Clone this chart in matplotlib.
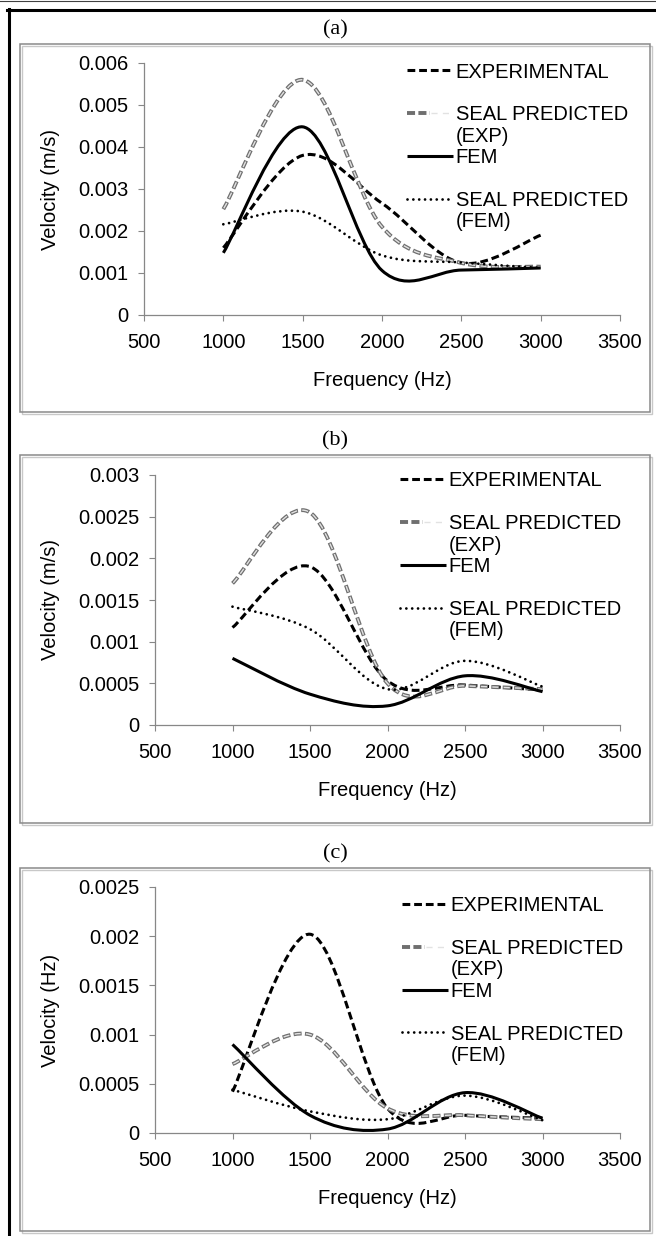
import numpy as np
import matplotlib
matplotlib.use('Agg')
import matplotlib.pyplot as plt
from matplotlib.path import Path
from matplotlib.patches import PathPatch, Rectangle
from matplotlib.lines import Line2D
from matplotlib.legend_handler import HandlerTuple

plt.rcParams['font.family'] = ['Liberation Sans', 'DejaVu Sans']
plt.rcParams['lines.scale_dashes'] = False

# data (Excel smoothed lines through 5 points)
freq = [1000, 1500, 2000, 2500, 3000]

a_exp = [0.0016, 0.0038, 0.00266, 0.00124, 0.0019]
a_seal_exp = [0.00252, 0.0056, 0.0021, 0.00124, 0.00115]
a_fem = [0.00148, 0.00448, 0.00106, 0.00107, 0.00112]
a_seal_fem = [0.00216, 0.00246, 0.00142, 0.00125, 0.00112]

b_exp = [0.00117, 0.0019, 0.00053, 0.00048, 0.00042]
b_seal_exp = [0.0017, 0.00255, 0.0005, 0.00047, 0.00043]
b_fem = [0.0008, 0.00037, 0.00023, 0.00059, 0.0004]
b_seal_fem = [0.00142, 0.00115, 0.00043, 0.00077, 0.00046]

c_exp = [0.00042, 0.00202, 0.00025, 0.00018, 0.00015]
c_seal_exp = [0.0007, 0.001, 0.00025, 0.00018, 0.00014]
c_fem = [0.0009, 0.00018, 0.00004, 0.00041, 0.00015]
c_seal_fem = [0.00044, 0.00022, 0.00014, 0.00038, 0.00013]

x_ticks = [500, 1000, 1500, 2000, 2500, 3000, 3500]
a_yticks = [0, 0.001, 0.002, 0.003, 0.004, 0.005, 0.006]
a_yticklabels = ['0', '0.001', '0.002', '0.003', '0.004', '0.005', '0.006']
b_yticks = [0, 0.0005, 0.001, 0.0015, 0.002, 0.0025, 0.003]
b_yticklabels = ['0', '0.0005', '0.001', '0.0015', '0.002', '0.0025', '0.003']
c_yticks = [0, 0.0005, 0.001, 0.0015, 0.002, 0.0025]
c_yticklabels = ['0', '0.0005', '0.001', '0.0015', '0.002', '0.0025']

panel_titles = ['(a)', '(b)', '(c)']
y_titles = ['Velocity (m/s)', 'Velocity (m/s)', 'Velocity (Hz)']
x_title = 'Frequency (Hz)'
legend_rows = ['EXPERIMENTAL', ' ', 'SEAL PREDICTED', '(EXP)', 'FEM', ' ', 'SEAL PREDICTED', '(FEM)']

W, H = 656, 1236
GREY = '#878787'

STYLES = {
	'exp': [dict(color='black', lw=2.2, ls=(0, (5.6, 2.8)), cap='butt')],
	'seal_exp': [dict(color='#6f6f6f', lw=2.8, ls=(0, (5.8, 2.4)), cap='butt'),
		dict(color='#e2e2e2', lw=1.0, ls=(7.5, (4.4, 3.8)), cap='butt')],
	'fem': [dict(color='black', lw=2.2, ls='-', cap='butt')],
	'seal_fem': [dict(color='black', lw=2.0, ls=(0, (0.01, 4.2)), cap='round')],
}


def fx(px):
	return px / W


def fy(py):
	return 1 - py / H


def smooth_path(x, y):
	# bezier through the points, like Excel's "smoothed line"
	n = len(x)
	verts = [(x[0], y[0])]
	codes = [Path.MOVETO]
	for i in range(n - 1):
		j0 = i - 1 if i > 0 else i
		j3 = i + 2 if i + 2 < n else i + 1
		c1 = (x[i] + (x[i + 1] - x[j0]) / 6, y[i] + (y[i + 1] - y[j0]) / 6)
		c2 = (x[i + 1] - (x[j3] - x[i]) / 6, y[i + 1] - (y[j3] - y[i]) / 6)
		verts += [c1, c2, (x[i + 1], y[i + 1])]
		codes += [Path.CURVE4] * 3
	return Path(verts, codes)


def legend_handle(key):
	lines = [Line2D([], [], color=st['color'], lw=st['lw'], ls=st['ls'],
		dash_capstyle=st['cap'], solid_capstyle=st['cap']) for st in STYLES[key]]
	if len(lines) > 1:
		return tuple(lines)
	return lines[0]


def draw_panel(fig, series, yticks, yticklabels, title, ytitle, box, axbox, legend_pos):
	l, t, r, b = axbox
	ax = fig.add_axes([fx(l), fy(b), fx(r) - fx(l), (b - t) / H])
	for key, vals in series:
		path = smooth_path(freq, vals)
		for st in STYLES[key]:
			ax.add_patch(PathPatch(path, fill=False, edgecolor=st['color'], lw=st['lw'],
				linestyle=st['ls'], capstyle=st['cap'], joinstyle='round'))
	ax.set_xlim(500, 3500)
	ax.set_ylim(0, yticks[-1])
	ax.set_xticks(x_ticks)
	ax.set_yticks(yticks, yticklabels)
	for side in ['top', 'right']:
		ax.spines[side].set_visible(False)
	for side in ['left', 'bottom']:
		ax.spines[side].set_color(GREY)
		ax.spines[side].set_linewidth(0.9)
	ax.tick_params(axis='both', direction='out', length=4.3, width=0.8, color=GREY, labelsize=14.5)
	ax.tick_params(axis='x', pad=8.6)
	ax.tick_params(axis='y', pad=7.2)

	fig.text(fx(51), fy((t + b) / 2), ytitle, rotation=90, ha='center', va='center', fontsize=14.5)
	fig.text(fx((l + r) / 2), fy(b + 65), x_title, ha='center', va='center', fontsize=14.5)

	bl, bt, br, bb = box
	fig.add_artist(Rectangle((fx(bl + 1.5), fy(bb + 1.5)), fx(br) - fx(bl), (bb - bt) / H,
		transform=fig.transFigure, fill=False, ec='#c8c8c8', lw=1.0))
	fig.add_artist(Rectangle((fx(bl), fy(bb)), fx(br) - fx(bl), (bb - bt) / H,
		transform=fig.transFigure, fill=False, ec='#8a8a8a', lw=1.1))
	fig.text(fx((bl + br) / 2), fy(bt - 14), title, ha='center', va='center',
		fontsize=16, family='Liberation Serif')

	blank = Line2D([], [], ls='none')
	handles = [legend_handle('exp'), blank, legend_handle('seal_exp'), blank,
		legend_handle('fem'), blank, legend_handle('seal_fem'), blank]
	ax.legend(handles, legend_rows, loc='upper left',
		bbox_to_anchor=(fx(legend_pos[0]), fy(legend_pos[1])),
		bbox_transform=fig.transFigure, frameon=False, borderpad=0, borderaxespad=0,
		labelspacing=0.12, handlelength=2.27, handletextpad=0.15, fontsize=14.5,
		handler_map={tuple: HandlerTuple(ndivide=None, pad=0)})
	return ax


fig = plt.figure(figsize=(W / 100, H / 100), dpi=100)

draw_panel(fig, [('exp', a_exp), ('seal_exp', a_seal_exp), ('fem', a_fem), ('seal_fem', a_seal_fem)],
	a_yticks, a_yticklabels, panel_titles[0], y_titles[0],
	(20, 44, 650, 412), (144, 63, 620, 315), (407, 62.5))
draw_panel(fig, [('exp', b_exp), ('seal_exp', b_seal_exp), ('fem', b_fem), ('seal_fem', b_seal_fem)],
	b_yticks, b_yticklabels, panel_titles[1], y_titles[1],
	(20, 455, 650, 823), (155, 475, 620, 725), (400, 471.5))
draw_panel(fig, [('exp', c_exp), ('seal_exp', c_seal_exp), ('fem', c_fem), ('seal_fem', c_seal_fem)],
	c_yticks, c_yticklabels, panel_titles[2], y_titles[2],
	(20, 868, 650, 1231), (155, 887, 620, 1133), (402, 896))

# outer frame: thin line at the very top, heavy black on top and left
fig.add_artist(Line2D([0, 1], [fy(0.5), fy(0.5)], transform=fig.transFigure, color='#404040', lw=0.8))
fig.add_artist(Line2D([fx(7), 1], [fy(9.5), fy(9.5)], transform=fig.transFigure, color='black', lw=2.2))
fig.add_artist(Line2D([fx(8.5), fx(8.5)], [fy(8.5), 0], transform=fig.transFigure, color='black', lw=2.2))

fig.savefig('out.png', dpi=100)
